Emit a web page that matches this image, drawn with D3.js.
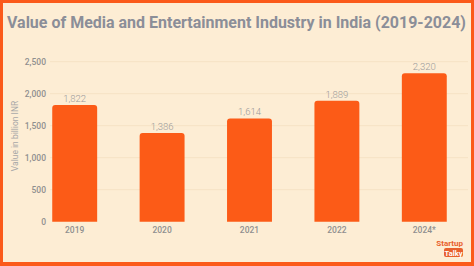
<!DOCTYPE html>
<html><head><meta charset="utf-8">
<script src="https://cdn.jsdelivr.net/npm/d3@7"></script>
<style>body{margin:0;background:#fb5a1a;}svg{display:block;}</style>
</head><body><svg id="c" width="474" height="266"></svg>
<script>
const categories = ["2019","2020","2021","2022","2024*"];
const values = [1822,1386,1614,1889,2320];
const yTicks = [0,500,1000,1500,2000,2500];
const title = "Value of Media and Entertainment Industry in India (2019-2024)";
const yLabel = "Value in billion INR";

const svg = d3.select("#c");
svg.append("rect").attr("width",474).attr("height",266).attr("fill","#fb5a1a");
svg.append("rect").attr("x",3).attr("y",3).attr("width",468).attr("height",259).attr("fill","#fdedd4");

const t = svg.append("text").attr("x",0).attr("y",0).text(title)
  .attr("font-family","Roboto, sans-serif").attr("font-weight",700)
  .attr("font-size",17).attr("fill","#8b8e98");
const natural = t.node().getComputedTextLength();
t.attr("transform",`translate(7,28) scale(${459/natural},1)`);

const x = d3.scaleBand().domain(categories).range([31,468]).paddingInner(0.486).paddingOuter(0.243);
const y = d3.scaleLinear().domain([0,2500]).range([221.7,61.7]);

const grid = svg.append("g");
grid.selectAll("line").data(yTicks.filter(d=>d>0)).join("line")
  .attr("x1",50).attr("x2",468).attr("y1",d=>y(d)).attr("y2",d=>y(d))
  .attr("stroke","#f6e2c4").attr("stroke-width",1);

const yAxis = svg.append("g").attr("transform","translate(50,0)")
  .call(d3.axisLeft(y).tickValues(yTicks).tickFormat(d3.format(",")).tickSize(0).tickPadding(4));
yAxis.select(".domain").remove();
yAxis.selectAll("text").attr("font-family","Roboto, sans-serif").attr("font-size",8.5)
  .attr("fill","#8f8f8f").attr("font-weight",500);

const r = 3;
svg.append("g").selectAll("path").data(values).join("path")
  .attr("fill","#fc5b17")
  .attr("d",(d,i)=>{
    const x0 = x(categories[i]), w = x.bandwidth(), y0 = y(d), y1 = y(0);
    return `M${x0},${y1}V${y0+r}Q${x0},${y0} ${x0+r},${y0}H${x0+w-r}Q${x0+w},${y0} ${x0+w},${y0+r}V${y1}Z`;
  });

svg.append("g").selectAll("text").data(values).join("text")
  .attr("x",(d,i)=>x(categories[i])+x.bandwidth()/2).attr("y",d=>y(d)-3)
  .attr("text-anchor","middle").text(d3.format(","))
  .attr("font-family","Roboto, sans-serif").attr("font-size",9.5).attr("font-weight",300).attr("fill","#9a9a9a");

const xAxis = svg.append("g").attr("transform","translate(0,221.7)")
  .call(d3.axisBottom(x).tickSize(0).tickPadding(5));
xAxis.select(".domain").remove();
xAxis.selectAll("text").attr("font-family","Roboto, sans-serif").attr("font-size",8.5)
  .attr("fill","#8f8f8f").attr("font-weight",500);

svg.append("text").attr("transform","translate(18,136) rotate(-90)").attr("text-anchor","middle")
  .text(yLabel).attr("font-family","Roboto, sans-serif").attr("font-size",8.5).attr("fill","#a8a8a8");

// logo
svg.append("text").attr("x",463).attr("y",246).attr("text-anchor","end").text("Startup")
  .attr("font-family","Roboto, sans-serif").attr("font-weight",700).attr("font-size",8).attr("fill","#e8602c");
svg.append("rect").attr("x",444).attr("y",248).attr("width",19).attr("height",9).attr("rx",2).attr("fill","#e8602c");
svg.append("text").attr("x",453.5).attr("y",255.5).attr("text-anchor","middle").text("Talky")
  .attr("font-family","Roboto, sans-serif").attr("font-weight",700).attr("font-size",7.5).attr("fill","#ffffff");
</script></body></html>
